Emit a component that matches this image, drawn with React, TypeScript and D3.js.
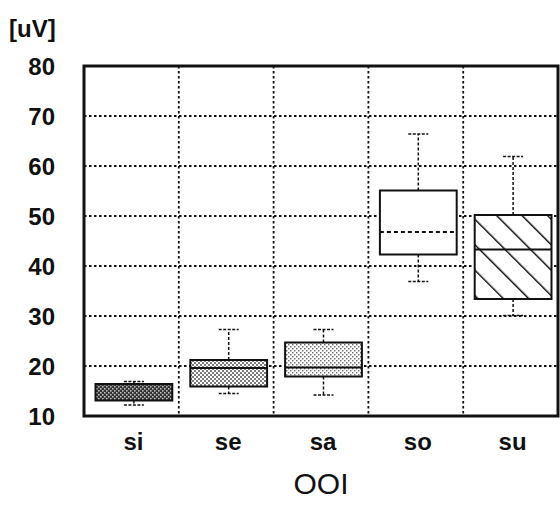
import React from 'react';
import * as d3 from 'd3';

const CATEGORIES = ['si', 'se', 'sa', 'so', 'su'];
const WHISKER_LOW = [12.2, 14.5, 14.2, 36.9, 30.1];
const Q1 = [13.1, 15.9, 17.9, 42.3, 33.4];
const MEDIAN = [14.6, 19.6, 19.7, 46.8, 43.3];
const Q3 = [16.4, 21.2, 24.7, 55.1, 50.2];
const WHISKER_HIGH = [16.9, 27.3, 27.3, 66.4, 61.9];
const Y_TICKS = [10, 20, 30, 40, 50, 60, 70, 80];
const FILLS = ['url(#dotDark)', 'url(#dotMid)', 'url(#dotLight)', '#fff', 'url(#hatch)'];
const MEDIAN_DASH = ['none', '', '', '4,3', ''];

const W = 560, H = 505;
const m = { l: 84, r: 2, t: 66, b: 89 };

export default function App() {
  const x = d3.scaleBand<string>().domain(CATEGORIES).range([m.l, W - m.r]).paddingInner(0).paddingOuter(0);
  const y = d3.scaleLinear().domain([10, 80]).range([H - m.b, m.t]);
  const bw = x.bandwidth();
  const boxW = bw * 0.81;
  const font = "'Liberation Sans', Arial, Helvetica, sans-serif";

  return (
    <svg width={W} height={H} style={{ position: 'absolute', left: 0, top: 0, background: '#fff' }}>
      <defs>
        <pattern id="dotDark" width="4" height="4" patternUnits="userSpaceOnUse">
          <rect width="4" height="4" fill="#333" />
          <rect x="0" y="0" width="1.6" height="1.6" fill="#bbb" />
          <rect x="2" y="2" width="1.6" height="1.6" fill="#bbb" />
        </pattern>
        <pattern id="dotMid" width="4" height="4" patternUnits="userSpaceOnUse">
          <rect width="4" height="4" fill="#fff" />
          <rect x="0" y="0" width="2" height="2" fill="#555" />
          <rect x="2" y="2" width="2" height="2" fill="#555" />
          <rect x="0.5" y="0.5" width="1" height="1" fill="#eee" />
          <rect x="2.5" y="2.5" width="1" height="1" fill="#eee" />
        </pattern>
        <pattern id="dotLight" width="4" height="4" patternUnits="userSpaceOnUse">
          <rect width="4" height="4" fill="#fff" />
          <rect x="0" y="0" width="1.5" height="1.5" fill="#777" />
          <rect x="2" y="2" width="1.5" height="1.5" fill="#777" />
        </pattern>
        <pattern id="hatch" width="18" height="18" patternUnits="userSpaceOnUse" patternTransform="rotate(-45)">
          <rect width="18" height="18" fill="#fff" />
          <line x1="0" y1="0" x2="0" y2="18" stroke="#000" strokeWidth="2.8" />
        </pattern>
      </defs>

      <text x={9} y={37} fontFamily={font} fontWeight="bold" fontSize={24} fill="#111">[uV]</text>

      {/* grid */}
      {Y_TICKS.slice(1, -1).map(t => (
        <line key={'gy' + t} x1={m.l} x2={W - m.r} y1={y(t)} y2={y(t)} stroke="#111" strokeWidth={1.8} strokeDasharray="2.5,2.5" />
      ))}
      {CATEGORIES.slice(1).map(c => (
        <line key={'gx' + c} x1={x(c)} x2={x(c)} y1={m.t} y2={H - m.b} stroke="#111" strokeWidth={1.8} strokeDasharray="2.5,2.5" />
      ))}

      {/* y tick labels */}
      {Y_TICKS.map(t => (
        <text key={'yt' + t} x={55} y={y(t)} dy="0.36em" textAnchor="end" fontFamily={font} fontWeight="bold" fontSize={24} fill="#111">{t}</text>
      ))}

      {/* boxes */}
      {CATEGORIES.map((c, i) => {
        const cx = (x(c) as number) + bw / 2 + 2.5;
        const x0 = cx - boxW / 2;
        const cap = 10;
        return (
          <g key={c}>
            <line x1={cx} x2={cx} y1={y(Q3[i])} y2={y(WHISKER_HIGH[i])} stroke="#111" strokeWidth={1.5} strokeDasharray="3,2" />
            <line x1={cx} x2={cx} y1={y(Q1[i])} y2={y(WHISKER_LOW[i])} stroke="#111" strokeWidth={1.5} strokeDasharray="3,2" />
            <line x1={cx - cap} x2={cx + cap} y1={y(WHISKER_HIGH[i])} y2={y(WHISKER_HIGH[i])} stroke="#111" strokeWidth={1.5} strokeDasharray="3,1.5" />
            <line x1={cx - cap} x2={cx + cap} y1={y(WHISKER_LOW[i])} y2={y(WHISKER_LOW[i])} stroke="#111" strokeWidth={1.5} strokeDasharray="3,1.5" />
            <rect x={x0} y={y(Q3[i])} width={boxW} height={y(Q1[i]) - y(Q3[i])} fill={FILLS[i]} stroke="#111" strokeWidth={2} />
            {MEDIAN_DASH[i] !== 'none' && (
              <line x1={x0} x2={x0 + boxW} y1={y(MEDIAN[i])} y2={y(MEDIAN[i])} stroke="#111" strokeWidth={1.8}
                strokeDasharray={MEDIAN_DASH[i] || undefined} />
            )}
          </g>
        );
      })}

      {/* frame */}
      <rect x={m.l} y={m.t} width={W - m.r - m.l} height={H - m.b - m.t} fill="none" stroke="#111" strokeWidth={3} />

      {/* x labels */}
      {CATEGORIES.map(c => (
        <text key={'xl' + c} x={(x(c) as number) + bw / 2 + 2} y={450} textAnchor="middle" fontFamily={font} fontWeight="bold" fontSize={24} fill="#111">{c}</text>
      ))}
      <text x={321} y={494} textAnchor="middle" fontFamily={font} fontSize={30} fill="#111">OOI</text>
    </svg>
  );
}
